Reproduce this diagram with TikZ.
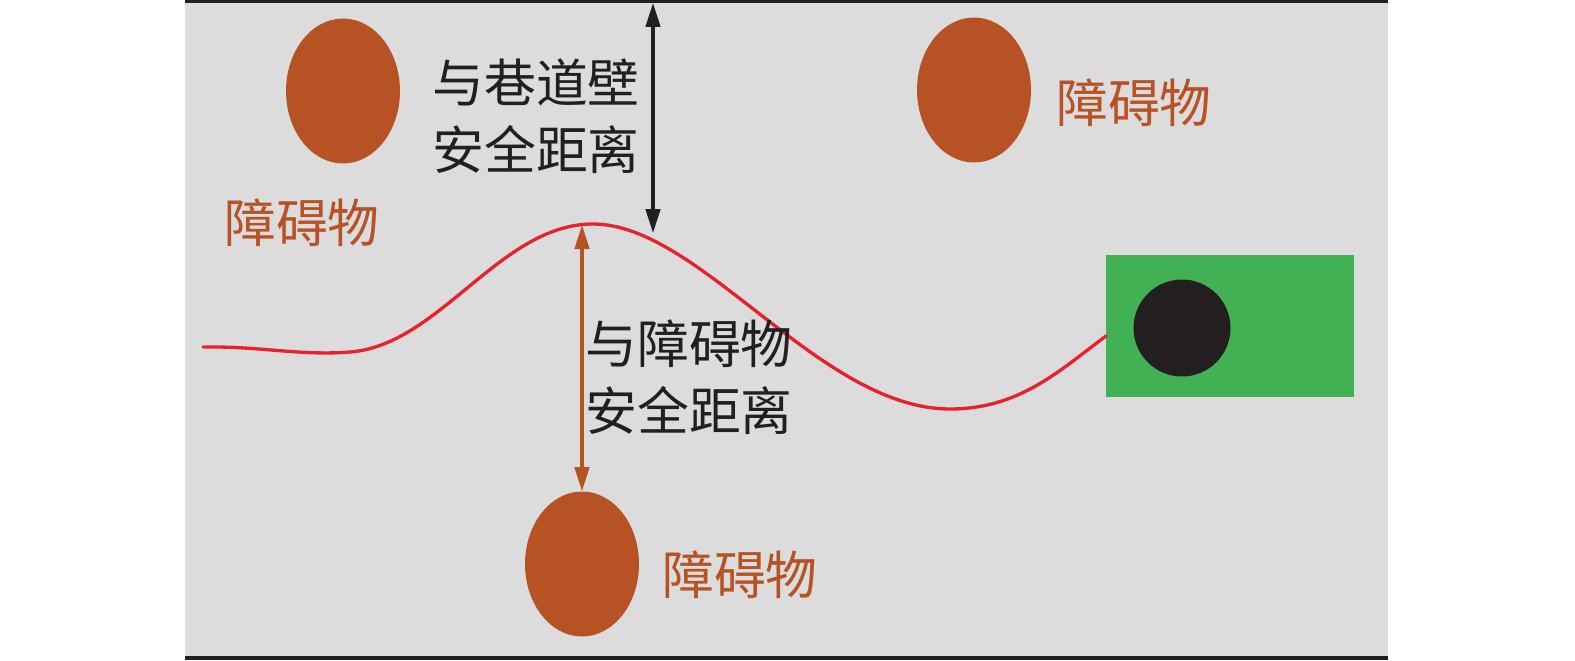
\documentclass[tikz,border=0pt]{standalone}
\definecolor{fond}{RGB}{220,220,220}
\definecolor{brique}{RGB}{183,82,37}
\definecolor{vert}{RGB}{65,177,83}
\definecolor{noir}{RGB}{35,31,32}
\definecolor{rouge}{RGB}{228,35,42}
\usepackage{fontspec}
\newfontfamily\cjk{Noto Sans CJK SC}
\usepackage{tikz}
\usetikzlibrary{arrows.meta,shapes.geometric}

\begin{document}
\begin{tikzpicture}[x=0.02cm,y=-0.02cm,font=\cjk\fontsize{29.5}{38}\selectfont,
	obstacle/.style={ellipse,fill=brique,inner sep=0,minimum width=2.28cm,minimum height=2.9cm},
	etiquette/.style={brique,inner sep=0},
	texte/.style={noir,align=center,inner sep=0},
	cote/.style={line width=1.8pt,{Triangle[length=0.48cm,width=0.29cm]}-{Triangle[length=0.48cm,width=0.29cm]}}]
					\useasboundingbox (0,0) rectangle (1575,660);
					\fill[fond](185,0) rectangle (1388,658);
					\draw[noir,line width=1.8pt](185,1.5)--(1388,1.5);
					\draw[noir,line width=1.8pt](185,658)--(1388,658);
					\node[obstacle] (obsA) at (343,91){};
					\node[obstacle] (obsB) at (974,90){};
					\node[obstacle] (obsC) at (582,564){};
					\node[fill=vert,inner sep=0,minimum width=4.96cm,minimum height=2.84cm] (engin) at (1230,326){};
					\node[circle,fill=noir,inner sep=0,minimum size=1.94cm] (roue) at (1182,328){};
					\coordinate (depart) at (203,347);
					\coordinate (crete) at (593,224);
					\coordinate (creux) at (950,409);
					\coordinate (arrivee) at (1106,336);
					\draw[rouge,line width=1.9pt,line cap=round](depart) .. controls (260,346) and (300,356) .. (350,352)
						.. controls (440,345) and (500,224) .. (crete)
						.. controls (700,224) and (820,409) .. (creux)
						.. controls (1020,409) and (1060,370) .. (arrivee);
					\coordinate (paroi) at (653,3);
					\coordinate (bord) at (653,233);
					\coordinate (haut) at (582,225);
					\draw[cote,noir](paroi)--(bord);
					\draw[cote,brique](haut)--(obsC.north);
					\node[texte] (distparoi) at (536,116){与巷道壁\\安全距离};
					\node[texte] (distobs) at (689,377){与障碍物\\安全距离};
					\node[etiquette] (nomA) at (302,223){障碍物};
					\node[etiquette] (nomB) at (1134,103){障碍物};
					\node[etiquette] (nomC) at (740,575){障碍物};
				\end{tikzpicture}
\end{document}
